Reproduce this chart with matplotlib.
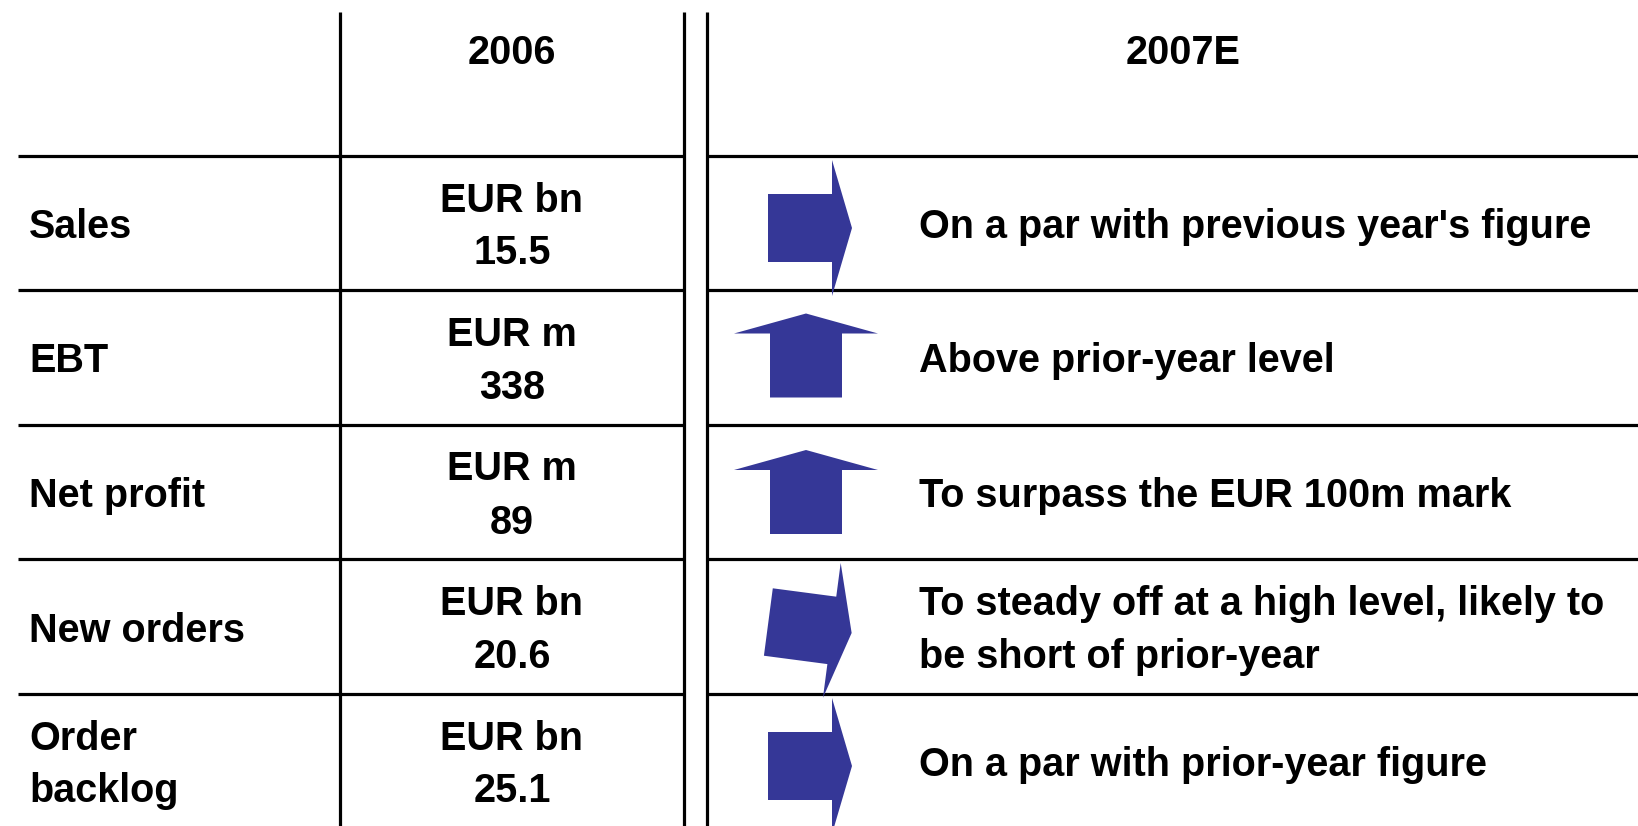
import numpy as np
import matplotlib
matplotlib.use("Agg")
import matplotlib.pyplot as plt
from matplotlib.patches import Polygon

# --- data ---
col_headers = ["2006", "2007E"]
row_labels = ["Sales", "EBT", "Net profit", "New orders", "Order\nbacklog"]
values_2006 = ["EUR bn\n15.5", "EUR m\n338", "EUR m\n89", "EUR bn\n20.6", "EUR bn\n25.1"]
outlook_2007 = [
    "On a par with previous year's figure",
    "Above prior-year level",
    "To surpass the EUR 100m mark",
    "To steady off at a high level, likely to\nbe short of prior-year",
    "On a par with prior-year figure",
]
# trend arrow direction in degrees (0 = flat/right, 90 = up, negative = slightly down)
trend_angles = [0, 90, 90, -7.5, 0]

# --- layout (pixels, figure is 1638 x 826) ---
W, H = 1638, 826
row_edges = [156, 290, 425, 559, 694, 828]
top_y = 12
left_x = 18
col1_x = 340
dbl_x = (684, 707)
label_x = 29
value_cx = 512
text_x = 919
header_cx = [512, 1183]
header_y = 49
line_gap = 26.5
arrow_cx = [810, 806, 806, 810, 810]
arrow_dy = [5, -2, 0, 1, 5]
arrow_half = [34, 36, 36, 34, 34]   # half width of the arrow body

ARROW_COLOR = "#353797"
FONT = dict(family="Liberation Sans", weight="bold", size=28.5, color="black")
LW = 2.3


def arrow_poly(cx, cy, angle, half):
    # body from u=-42..22, head 22..42 (twice the body width)
    pts = np.array([
        [-42, -half], [22, -half], [22, -2 * half], [42, 0],
        [22, 2 * half], [22, half], [-42, half],
    ], dtype=float)
    a = np.deg2rad(angle)
    d = np.array([np.cos(a), -np.sin(a)])
    n = np.array([np.sin(a), np.cos(a)])
    return np.array([cx, cy]) + pts[:, :1] * d + pts[:, 1:] * n


def put_lines(ax, x, cy, text, ha):
    lines = text.split("\n")
    offs = np.arange(len(lines)) * 2 * line_gap
    offs = offs - offs.mean()
    for ln, off in zip(lines, offs):
        ax.text(x, cy + off, ln, ha=ha, va="center_baseline", **FONT)


fig = plt.figure(figsize=(W / 100, H / 100), dpi=100)
ax = fig.add_axes([0, 0, 1, 1])
ax.set_xlim(0, W)
ax.set_ylim(H, 0)
ax.axis("off")

# grid lines
for x in (col1_x,) + dbl_x:
    ax.plot([x, x], [top_y, H], color="black", lw=LW, solid_capstyle="butt")
for y in row_edges[:-1]:
    ax.plot([left_x, dbl_x[0]], [y, y], color="black", lw=LW, solid_capstyle="butt")
    ax.plot([dbl_x[1], W], [y, y], color="black", lw=LW, solid_capstyle="butt")

# headers
for cx, h in zip(header_cx, col_headers):
    put_lines(ax, cx, header_y, h, "center")

# rows
for i in range(len(row_labels)):
    cy = (row_edges[i] + row_edges[i + 1]) / 2
    put_lines(ax, label_x, cy, row_labels[i], "left")
    put_lines(ax, value_cx, cy, values_2006[i], "center")
    put_lines(ax, text_x, cy, outlook_2007[i], "left")
    poly = arrow_poly(arrow_cx[i], cy + arrow_dy[i], trend_angles[i], arrow_half[i])
    ax.add_patch(Polygon(poly, closed=True, facecolor=ARROW_COLOR,
                         edgecolor="none", zorder=3))

fig.savefig("out.png", dpi=100)
